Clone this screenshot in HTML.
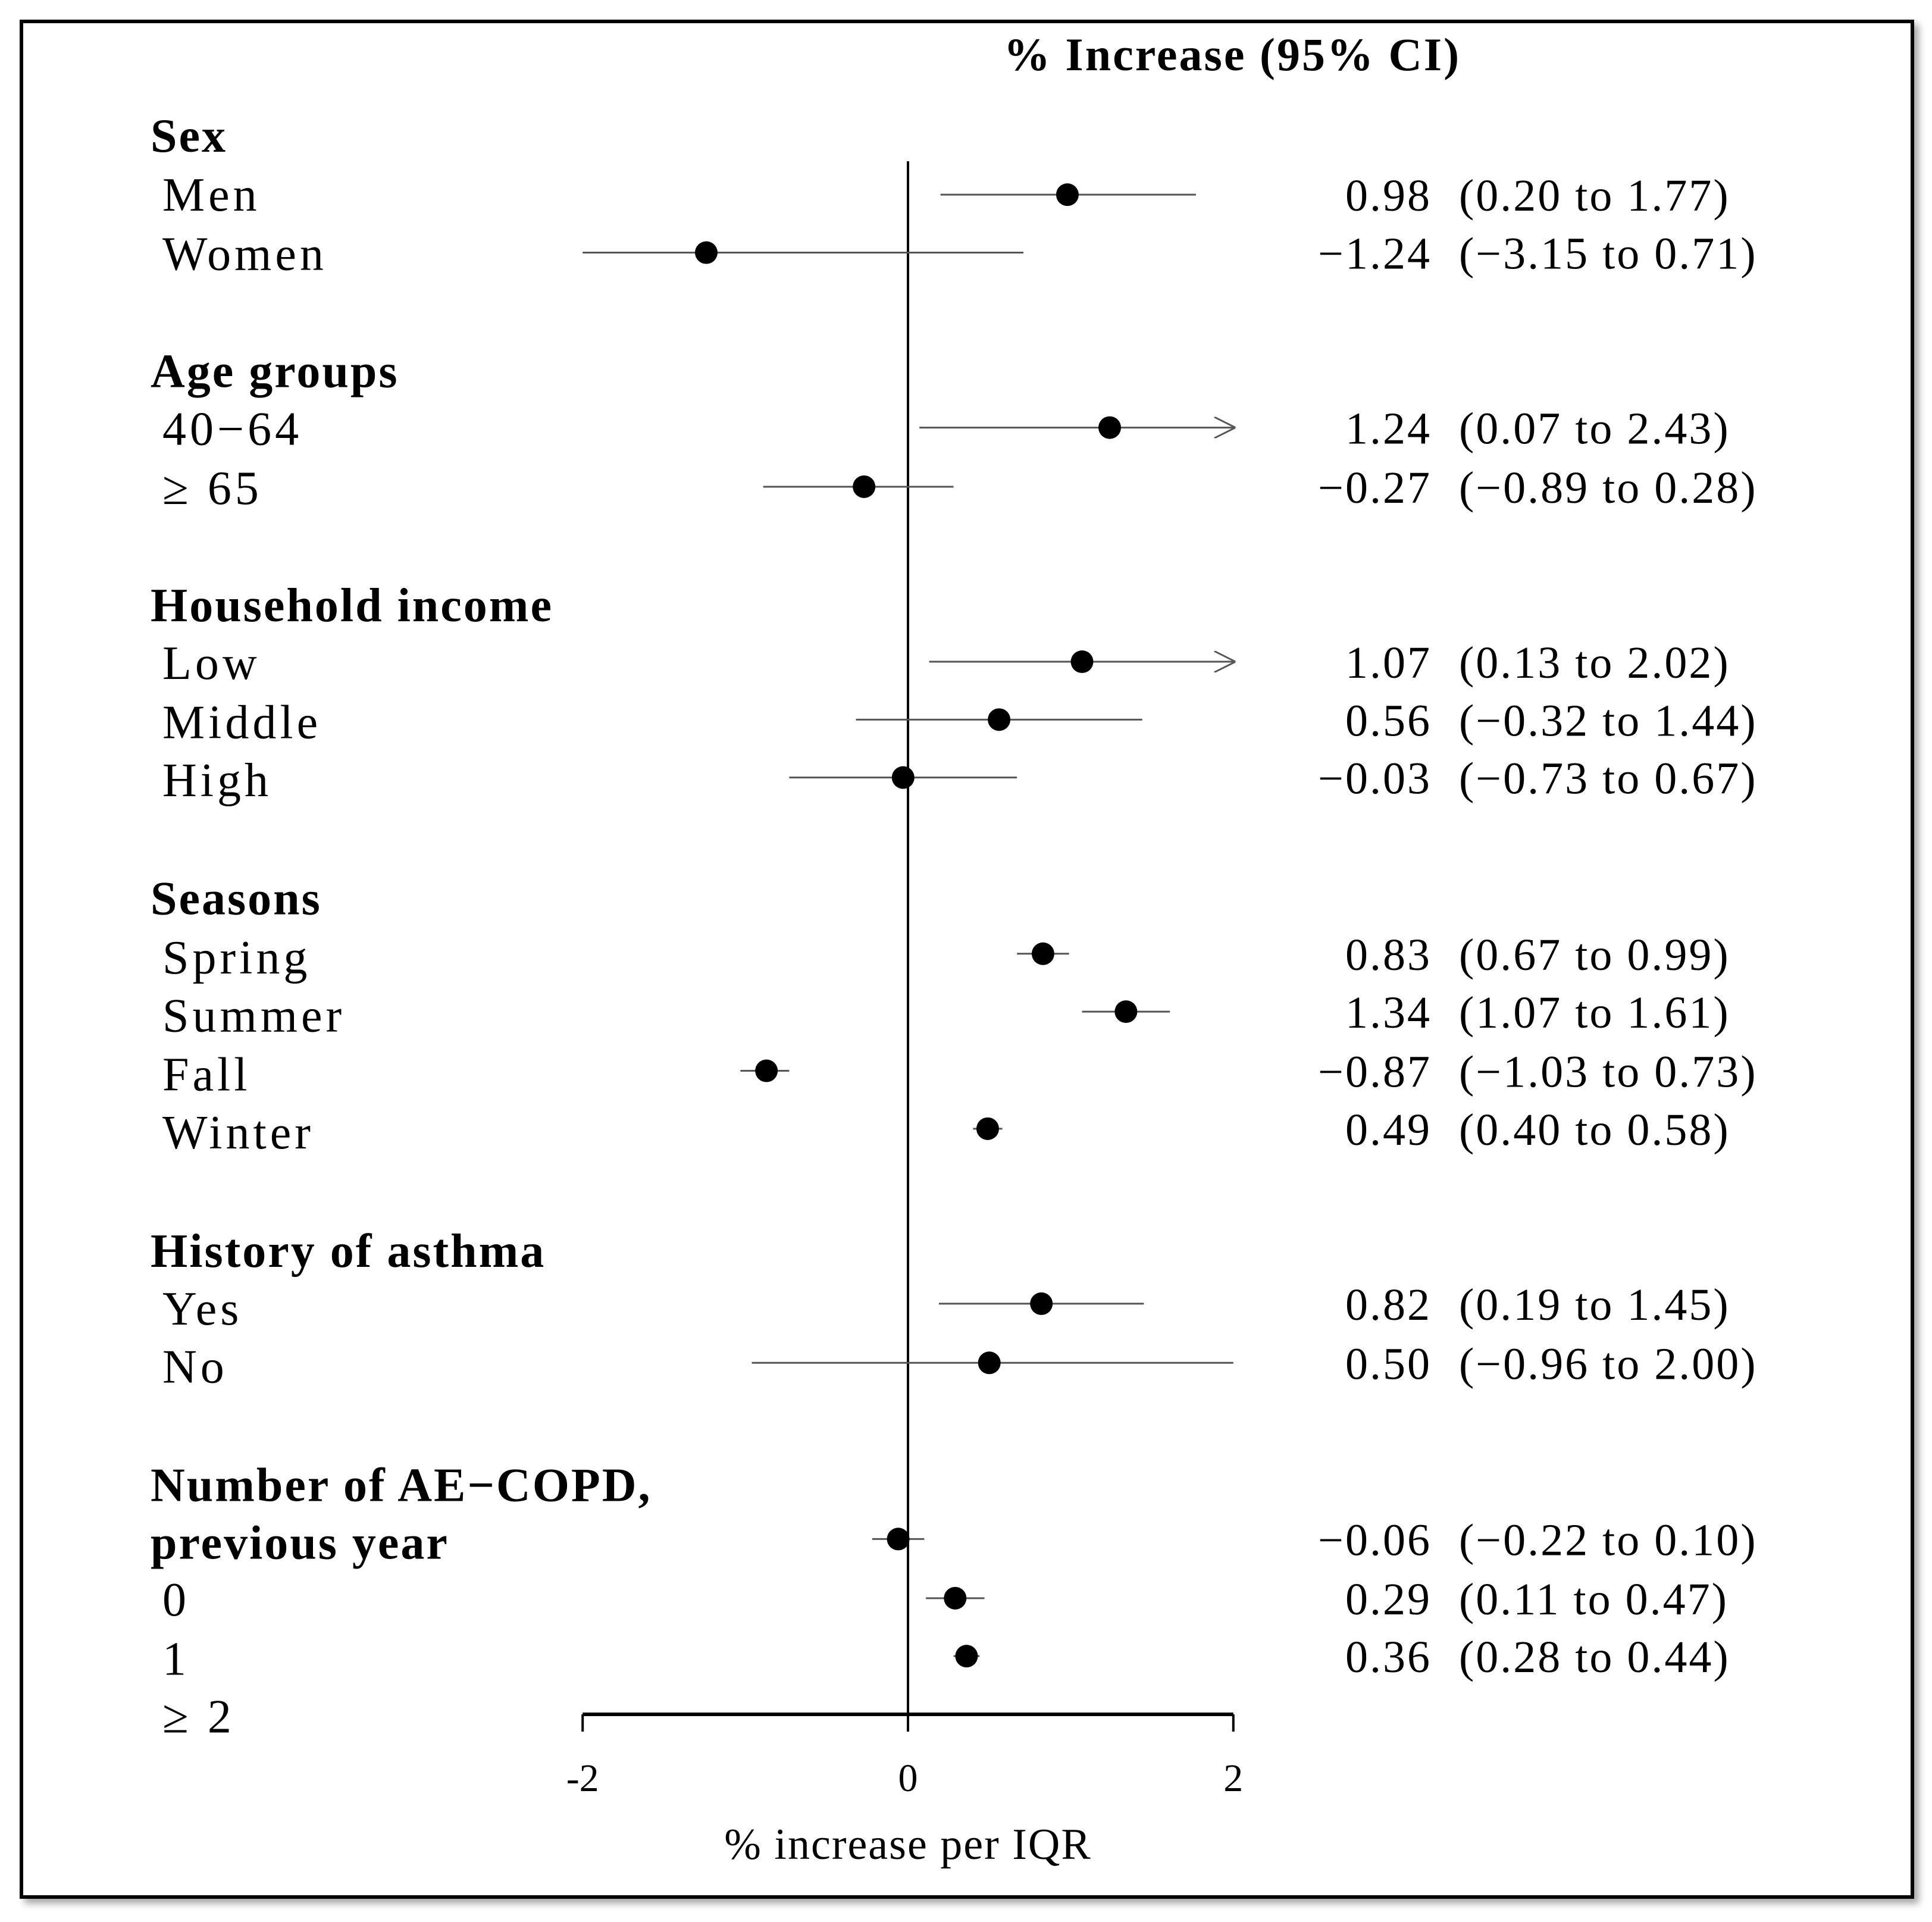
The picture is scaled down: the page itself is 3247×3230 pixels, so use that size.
<!DOCTYPE html>
<html><head><meta charset="utf-8"><style>
html,body{margin:0;padding:0;background:#fff;}
svg{display:block;font-family:"Liberation Serif",serif;}
</style></head><body>
<svg id="chart" width="3247" height="3230" viewBox="0 0 3247 3230" xmlns="http://www.w3.org/2000/svg">
<defs><filter id="sh" x="-5%" y="-5%" width="110%" height="110%"><feDropShadow dx="8" dy="8" stdDeviation="6" flood-color="#000" flood-opacity="0.35"/></filter>
<marker id="arr" viewBox="0 0 10 10" refX="9" refY="5" markerWidth="36" markerHeight="36" markerUnits="userSpaceOnUse" orient="auto"><path d="M0,0 L10,5 L0,10" fill="none" stroke="#555" stroke-width="0.8"/></marker></defs>
<rect x="36" y="36" width="3178" height="3152" fill="#fff" stroke="#000" stroke-width="6" filter="url(#sh)"/>
<text x="2071" y="118" font-size="78" font-weight="bold" text-anchor="middle" letter-spacing="3">% Increase (95% CI)</text>
<g id="plot"></g>
</svg>
<script>
const headers = ["Sex","Age groups","Household income","Seasons","History of asthma","Number of AE\u2212COPD,","previous year"];
const headerRows = [110,301,491,729,1015,1205,1252];
const catLabels = ["Men","Women","40\u221264","\u2265 65","Low","Middle","High","Spring","Summer","Fall","Winter","Yes","No","0","1","\u2265 2"];
const catRows = [158,206,348,396,538,586,633,777,824,872,919,1062,1109,1298,1346,1393];
const estimates = [0.98,-1.24,1.24,-0.27,1.07,0.56,-0.03,0.83,1.34,-0.87,0.49,0.82,0.50,-0.06,0.29,0.36];
const lowers = [0.20,-3.15,0.07,-0.89,0.13,-0.32,-0.73,0.67,1.07,-1.03,0.40,0.19,-0.96,-0.22,0.11,0.28];
const uppers = [1.77,0.71,2.43,0.28,2.02,1.44,0.67,0.99,1.61,-0.73,0.58,1.45,2.00,0.10,0.47,0.44];
const ciText = ["(0.20 to 1.77)","(\u22123.15 to 0.71)","(0.07 to 2.43)","(\u22120.89 to 0.28)","(0.13 to 2.02)","(\u22120.32 to 1.44)","(\u22120.73 to 0.67)","(0.67 to 0.99)","(1.07 to 1.61)","(\u22121.03 to 0.73)","(0.40 to 0.58)","(0.19 to 1.45)","(\u22120.96 to 2.00)","(\u22120.22 to 0.10)","(0.11 to 0.47)","(0.28 to 0.44)"];
const markRows = [158,205,347,395,537,584,631,774,821,869,916,1058,1106,1249,1297,1344];
const ticks = [-2,0,2];
const tickLabels = ["-2","0","2"];

const S = 3247/1568;
const NS = "http://www.w3.org/2000/svg";
const g = document.getElementById('plot');
const x = v => 1526 + v * 273.4;
const y = r => r * S;
function el(t, a, txt){ const e=document.createElementNS(NS,t); for(const k in a) e.setAttribute(k,a[k]); if(txt!==undefined) e.textContent=txt; g.appendChild(e); return e; }
const fmt = v => (v<0?"\u2212":"") + Math.abs(v).toFixed(2);

headers.forEach((h,i)=>{
  const e = el('text',{x:253,y:y(headerRows[i])+27,'font-size':80,'font-weight':'bold','letter-spacing':3},h);
  
  
});
catLabels.forEach((c,i)=>{
  const e = el('text',{x:273,y:y(catRows[i])+27,'font-size':80,'letter-spacing':6},c);
  
  
});
const zl = el('line',{x1:x(0),x2:x(0),y1:271,y2:2881,stroke:'#000','stroke-width':4});


const ax = el('line',{x1:x(ticks[0]),x2:x(ticks[ticks.length-1]),y1:2881,y2:2881,stroke:'#000','stroke-width':6});


ticks.forEach((t,i)=>{
  const tk = el('line',{x1:x(t),x2:x(t),y1:2881,y2:2910,stroke:'#000','stroke-width':4});
  
  
  const tl = el('text',{x:x(t),y:3010,'font-size':66,'text-anchor':'middle'},tickLabels[i]);
  
  
});
const at = el('text',{x:x(0),y:3124,'font-size':74,'text-anchor':'middle','letter-spacing':2},'% increase per IQR');



estimates.forEach((v,i)=>{
  const yy = y(markRows[i]);
  const lo = Math.max(lowers[i],-2), hi = Math.min(uppers[i],2);
  const ln = el('line',{x1:x(lo),x2:x(hi),y1:yy,y2:yy,stroke:'#555','stroke-width':3});
  if(uppers[i]>2) ln.setAttribute('marker-end','url(#arr)');
  
  
  const c = el('circle',{cx:x(v),cy:yy,r:19,fill:'#000'});
  
  
  const n = el('text',{x:2406,y:yy+27,'font-size':76,'text-anchor':'end','letter-spacing':3},fmt(v));
  
  
  const ci = el('text',{x:2452,y:yy+27,'font-size':76,'letter-spacing':3},ciText[i]);
  
  
});
</script>
</body></html>
